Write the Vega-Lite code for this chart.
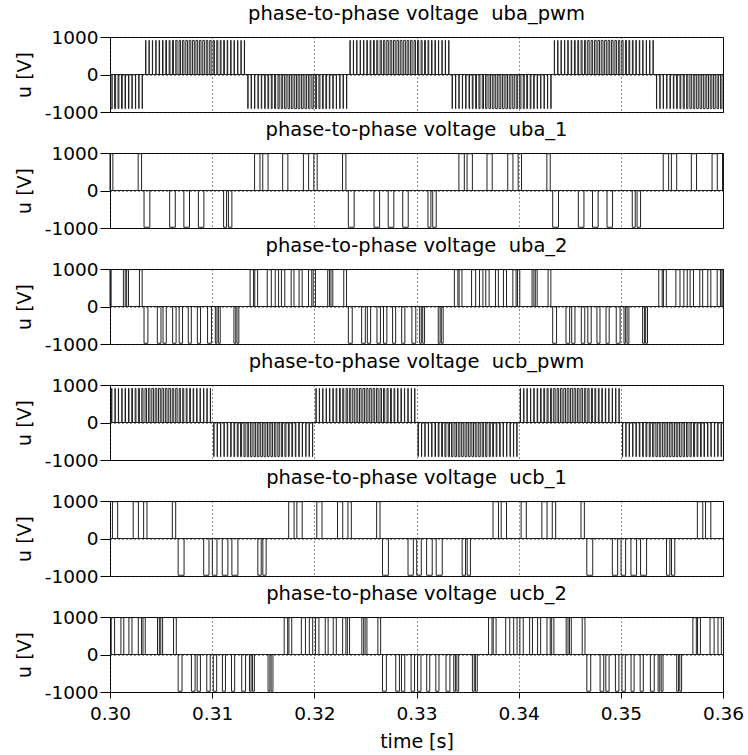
{
"$schema":"https://vega.github.io/schema/vega-lite/v6.json",
"background":"white",
"padding":{"left":14,"right":5,"top":3,"bottom":2},
"spacing":-3,
"datasets":{
"uba_pwm":[
{"a":0.30,"b":0.36,"v":0},
{"a":0.30010,"b":0.30022,"v":-910},{"a":0.30045,"b":0.30055,"v":-910},{"a":0.30079,"b":0.30087,"v":-910},{"a":0.30113,"b":0.30120,"v":-910},{"a":0.30147,"b":0.30152,"v":-910},{"a":0.30181,"b":0.30185,"v":-910},{"a":0.30215,"b":0.30217,"v":-910},{"a":0.30249,"b":0.30251,"v":-910},{"a":0.30282,"b":0.30284,"v":-910},{"a":0.30315,"b":0.30317,"v":-910},
{"a":0.30349,"b":0.30351,"v":910},{"a":0.30382,"b":0.30384,"v":910},{"a":0.30415,"b":0.30417,"v":910},{"a":0.30449,"b":0.30451,"v":910},{"a":0.30481,"b":0.30485,"v":910},{"a":0.30514,"b":0.30519,"v":910},{"a":0.30546,"b":0.30553,"v":910},{"a":0.30579,"b":0.30587,"v":910},{"a":0.30611,"b":0.30621,"v":910},{"a":0.30644,"b":0.30656,"v":910},{"a":0.30676,"b":0.30690,"v":910},{"a":0.30709,"b":0.30724,"v":910},{"a":0.30742,"b":0.30758,"v":910},{"a":0.30775,"b":0.30791,"v":910},{"a":0.30808,"b":0.30825,"v":910},{"a":0.30841,"b":0.30858,"v":910},{"a":0.30875,"b":0.30891,"v":910},{"a":0.30908,"b":0.30924,"v":910},{"a":0.30942,"b":0.30957,"v":910},{"a":0.30976,"b":0.30990,"v":910},{"a":0.31010,"b":0.31022,"v":910},{"a":0.31045,"b":0.31055,"v":910},{"a":0.31079,"b":0.31087,"v":910},{"a":0.31113,"b":0.31120,"v":910},{"a":0.31147,"b":0.31152,"v":910},{"a":0.31181,"b":0.31185,"v":910},{"a":0.31215,"b":0.31217,"v":910},{"a":0.31249,"b":0.31251,"v":910},{"a":0.31282,"b":0.31284,"v":910},{"a":0.31315,"b":0.31317,"v":910},
{"a":0.31349,"b":0.31351,"v":-910},{"a":0.31382,"b":0.31384,"v":-910},{"a":0.31415,"b":0.31417,"v":-910},{"a":0.31449,"b":0.31451,"v":-910},{"a":0.31481,"b":0.31485,"v":-910},{"a":0.31514,"b":0.31519,"v":-910},{"a":0.31546,"b":0.31553,"v":-910},{"a":0.31579,"b":0.31587,"v":-910},{"a":0.31611,"b":0.31621,"v":-910},{"a":0.31644,"b":0.31656,"v":-910},{"a":0.31676,"b":0.31690,"v":-910},{"a":0.31709,"b":0.31724,"v":-910},{"a":0.31742,"b":0.31758,"v":-910},{"a":0.31775,"b":0.31791,"v":-910},{"a":0.31808,"b":0.31825,"v":-910},{"a":0.31841,"b":0.31858,"v":-910},{"a":0.31875,"b":0.31891,"v":-910},{"a":0.31908,"b":0.31924,"v":-910},{"a":0.31942,"b":0.31957,"v":-910},{"a":0.31976,"b":0.31990,"v":-910},{"a":0.32010,"b":0.32022,"v":-910},{"a":0.32045,"b":0.32055,"v":-910},{"a":0.32079,"b":0.32087,"v":-910},{"a":0.32113,"b":0.32120,"v":-910},{"a":0.32147,"b":0.32152,"v":-910},{"a":0.32181,"b":0.32185,"v":-910},{"a":0.32215,"b":0.32217,"v":-910},{"a":0.32249,"b":0.32251,"v":-910},{"a":0.32282,"b":0.32284,"v":-910},{"a":0.32315,"b":0.32317,"v":-910},
{"a":0.32349,"b":0.32351,"v":910},{"a":0.32382,"b":0.32384,"v":910},{"a":0.32415,"b":0.32417,"v":910},{"a":0.32449,"b":0.32451,"v":910},{"a":0.32481,"b":0.32485,"v":910},{"a":0.32514,"b":0.32519,"v":910},{"a":0.32546,"b":0.32553,"v":910},{"a":0.32579,"b":0.32587,"v":910},{"a":0.32611,"b":0.32621,"v":910},{"a":0.32644,"b":0.32656,"v":910},{"a":0.32676,"b":0.32690,"v":910},{"a":0.32709,"b":0.32724,"v":910},{"a":0.32742,"b":0.32758,"v":910},{"a":0.32775,"b":0.32791,"v":910},{"a":0.32808,"b":0.32825,"v":910},{"a":0.32841,"b":0.32858,"v":910},{"a":0.32875,"b":0.32891,"v":910},{"a":0.32908,"b":0.32924,"v":910},{"a":0.32942,"b":0.32957,"v":910},{"a":0.32976,"b":0.32990,"v":910},{"a":0.33010,"b":0.33022,"v":910},{"a":0.33045,"b":0.33055,"v":910},{"a":0.33079,"b":0.33087,"v":910},{"a":0.33113,"b":0.33120,"v":910},{"a":0.33147,"b":0.33152,"v":910},{"a":0.33181,"b":0.33185,"v":910},{"a":0.33215,"b":0.33217,"v":910},{"a":0.33249,"b":0.33251,"v":910},{"a":0.33282,"b":0.33284,"v":910},{"a":0.33315,"b":0.33317,"v":910},
{"a":0.33349,"b":0.33351,"v":-910},{"a":0.33382,"b":0.33384,"v":-910},{"a":0.33415,"b":0.33417,"v":-910},{"a":0.33449,"b":0.33451,"v":-910},{"a":0.33481,"b":0.33485,"v":-910},{"a":0.33514,"b":0.33519,"v":-910},{"a":0.33546,"b":0.33553,"v":-910},{"a":0.33579,"b":0.33587,"v":-910},{"a":0.33611,"b":0.33621,"v":-910},{"a":0.33644,"b":0.33656,"v":-910},{"a":0.33676,"b":0.33690,"v":-910},{"a":0.33709,"b":0.33724,"v":-910},{"a":0.33742,"b":0.33758,"v":-910},{"a":0.33775,"b":0.33791,"v":-910},{"a":0.33808,"b":0.33825,"v":-910},{"a":0.33841,"b":0.33858,"v":-910},{"a":0.33875,"b":0.33891,"v":-910},{"a":0.33908,"b":0.33924,"v":-910},{"a":0.33942,"b":0.33957,"v":-910},{"a":0.33976,"b":0.33990,"v":-910},{"a":0.34010,"b":0.34022,"v":-910},{"a":0.34045,"b":0.34055,"v":-910},{"a":0.34079,"b":0.34087,"v":-910},{"a":0.34113,"b":0.34120,"v":-910},{"a":0.34147,"b":0.34152,"v":-910},{"a":0.34181,"b":0.34185,"v":-910},{"a":0.34215,"b":0.34217,"v":-910},{"a":0.34249,"b":0.34251,"v":-910},{"a":0.34282,"b":0.34284,"v":-910},{"a":0.34315,"b":0.34317,"v":-910},
{"a":0.34349,"b":0.34351,"v":910},{"a":0.34382,"b":0.34384,"v":910},{"a":0.34415,"b":0.34417,"v":910},{"a":0.34449,"b":0.34451,"v":910},{"a":0.34481,"b":0.34485,"v":910},{"a":0.34514,"b":0.34519,"v":910},{"a":0.34546,"b":0.34553,"v":910},{"a":0.34579,"b":0.34587,"v":910},{"a":0.34611,"b":0.34621,"v":910},{"a":0.34644,"b":0.34656,"v":910},{"a":0.34676,"b":0.34690,"v":910},{"a":0.34709,"b":0.34724,"v":910},{"a":0.34742,"b":0.34758,"v":910},{"a":0.34775,"b":0.34791,"v":910},{"a":0.34808,"b":0.34825,"v":910},{"a":0.34841,"b":0.34858,"v":910},{"a":0.34875,"b":0.34891,"v":910},{"a":0.34908,"b":0.34924,"v":910},{"a":0.34942,"b":0.34957,"v":910},{"a":0.34976,"b":0.34990,"v":910},{"a":0.35010,"b":0.35022,"v":910},{"a":0.35045,"b":0.35055,"v":910},{"a":0.35079,"b":0.35087,"v":910},{"a":0.35113,"b":0.35120,"v":910},{"a":0.35147,"b":0.35152,"v":910},{"a":0.35181,"b":0.35185,"v":910},{"a":0.35215,"b":0.35217,"v":910},{"a":0.35249,"b":0.35251,"v":910},{"a":0.35282,"b":0.35284,"v":910},{"a":0.35315,"b":0.35317,"v":910},
{"a":0.35349,"b":0.35351,"v":-910},{"a":0.35382,"b":0.35384,"v":-910},{"a":0.35415,"b":0.35417,"v":-910},{"a":0.35449,"b":0.35451,"v":-910},{"a":0.35481,"b":0.35485,"v":-910},{"a":0.35514,"b":0.35519,"v":-910},{"a":0.35546,"b":0.35553,"v":-910},{"a":0.35579,"b":0.35587,"v":-910},{"a":0.35611,"b":0.35621,"v":-910},{"a":0.35644,"b":0.35656,"v":-910},{"a":0.35676,"b":0.35690,"v":-910},{"a":0.35709,"b":0.35724,"v":-910},{"a":0.35742,"b":0.35758,"v":-910},{"a":0.35775,"b":0.35791,"v":-910},{"a":0.35808,"b":0.35825,"v":-910},{"a":0.35841,"b":0.35858,"v":-910},{"a":0.35875,"b":0.35891,"v":-910},{"a":0.35908,"b":0.35924,"v":-910},{"a":0.35942,"b":0.35957,"v":-910},{"a":0.35976,"b":0.35990,"v":-910}
],
"uba_1":[
{"a":0.30,"b":0.36,"v":0},
{"a":0.30000,"b":0.30028,"v":980},{"a":0.30276,"b":0.30309,"v":980},
{"a":0.30333,"b":0.30390,"v":-980},{"a":0.30584,"b":0.30639,"v":-980},{"a":0.30723,"b":0.30778,"v":-980},{"a":0.30865,"b":0.30919,"v":-980},{"a":0.31112,"b":0.31141,"v":-980},{"a":0.31159,"b":0.31193,"v":-980},
{"a":0.31415,"b":0.31468,"v":980},{"a":0.31495,"b":0.31547,"v":980},{"a":0.31690,"b":0.31741,"v":980},{"a":0.31893,"b":0.31944,"v":980},{"a":0.31995,"b":0.32028,"v":980},{"a":0.32276,"b":0.32309,"v":980},
{"a":0.32333,"b":0.32390,"v":-980},{"a":0.32584,"b":0.32639,"v":-980},{"a":0.32723,"b":0.32778,"v":-980},{"a":0.32865,"b":0.32919,"v":-980},{"a":0.33112,"b":0.33141,"v":-980},{"a":0.33159,"b":0.33193,"v":-980},
{"a":0.33415,"b":0.33468,"v":980},{"a":0.33495,"b":0.33547,"v":980},{"a":0.33690,"b":0.33741,"v":980},{"a":0.33893,"b":0.33944,"v":980},{"a":0.33995,"b":0.34028,"v":980},{"a":0.34276,"b":0.34309,"v":980},
{"a":0.34333,"b":0.34390,"v":-980},{"a":0.34584,"b":0.34639,"v":-980},{"a":0.34723,"b":0.34778,"v":-980},{"a":0.34865,"b":0.34919,"v":-980},{"a":0.35112,"b":0.35141,"v":-980},{"a":0.35159,"b":0.35193,"v":-980},
{"a":0.35415,"b":0.35468,"v":980},{"a":0.35495,"b":0.35547,"v":980},{"a":0.35690,"b":0.35741,"v":980},{"a":0.35893,"b":0.35944,"v":980},{"a":0.35995,"b":0.36000,"v":980}
],
"uba_2":[
{"a":0.30,"b":0.36,"v":0},
{"a":0.30000,"b":0.30011,"v":980},{"a":0.30131,"b":0.30149,"v":980},{"a":0.30163,"b":0.30181,"v":980},{"a":0.30288,"b":0.30315,"v":980},
{"a":0.30333,"b":0.30371,"v":-980},{"a":0.30463,"b":0.30499,"v":-980},{"a":0.30519,"b":0.30551,"v":-980},{"a":0.30613,"b":0.30647,"v":-980},{"a":0.30677,"b":0.30710,"v":-980},{"a":0.30766,"b":0.30796,"v":-980},{"a":0.30855,"b":0.30886,"v":-980},{"a":0.30955,"b":0.30993,"v":-980},{"a":0.31031,"b":0.31047,"v":-980},{"a":0.31061,"b":0.31079,"v":-980},{"a":0.31213,"b":0.31231,"v":-980},{"a":0.31243,"b":0.31261,"v":-980},
{"a":0.31371,"b":0.31405,"v":980},{"a":0.31417,"b":0.31445,"v":980},{"a":0.31539,"b":0.31579,"v":980},{"a":0.31617,"b":0.31650,"v":980},{"a":0.31678,"b":0.31711,"v":980},{"a":0.31773,"b":0.31801,"v":980},{"a":0.31851,"b":0.31881,"v":980},{"a":0.31943,"b":0.31975,"v":980},{"a":0.31989,"b":0.32011,"v":980},{"a":0.32131,"b":0.32149,"v":980},{"a":0.32163,"b":0.32181,"v":980},{"a":0.32288,"b":0.32315,"v":980},
{"a":0.32333,"b":0.32371,"v":-980},{"a":0.32463,"b":0.32499,"v":-980},{"a":0.32519,"b":0.32551,"v":-980},{"a":0.32613,"b":0.32647,"v":-980},{"a":0.32677,"b":0.32710,"v":-980},{"a":0.32766,"b":0.32796,"v":-980},{"a":0.32855,"b":0.32886,"v":-980},{"a":0.32955,"b":0.32993,"v":-980},{"a":0.33031,"b":0.33047,"v":-980},{"a":0.33061,"b":0.33079,"v":-980},{"a":0.33213,"b":0.33231,"v":-980},{"a":0.33243,"b":0.33261,"v":-980},
{"a":0.33371,"b":0.33405,"v":980},{"a":0.33417,"b":0.33445,"v":980},{"a":0.33539,"b":0.33579,"v":980},{"a":0.33617,"b":0.33650,"v":980},{"a":0.33678,"b":0.33711,"v":980},{"a":0.33773,"b":0.33801,"v":980},{"a":0.33851,"b":0.33881,"v":980},{"a":0.33943,"b":0.33975,"v":980},{"a":0.33989,"b":0.34011,"v":980},{"a":0.34131,"b":0.34149,"v":980},{"a":0.34163,"b":0.34181,"v":980},{"a":0.34288,"b":0.34315,"v":980},
{"a":0.34333,"b":0.34371,"v":-980},{"a":0.34463,"b":0.34499,"v":-980},{"a":0.34519,"b":0.34551,"v":-980},{"a":0.34613,"b":0.34647,"v":-980},{"a":0.34677,"b":0.34710,"v":-980},{"a":0.34766,"b":0.34796,"v":-980},{"a":0.34855,"b":0.34886,"v":-980},{"a":0.34955,"b":0.34993,"v":-980},{"a":0.35031,"b":0.35047,"v":-980},{"a":0.35061,"b":0.35079,"v":-980},{"a":0.35213,"b":0.35231,"v":-980},{"a":0.35243,"b":0.35261,"v":-980},
{"a":0.35371,"b":0.35405,"v":980},{"a":0.35417,"b":0.35445,"v":980},{"a":0.35539,"b":0.35579,"v":980},{"a":0.35617,"b":0.35650,"v":980},{"a":0.35678,"b":0.35711,"v":980},{"a":0.35773,"b":0.35801,"v":980},{"a":0.35851,"b":0.35881,"v":980},{"a":0.35943,"b":0.35975,"v":980},{"a":0.35989,"b":0.36000,"v":980}
],
"ucb_pwm":[
{"a":0.30,"b":0.36,"v":0},
{"a":0.30016,"b":0.30018,"v":910},{"a":0.30049,"b":0.30051,"v":910},{"a":0.30082,"b":0.30084,"v":910},{"a":0.30116,"b":0.30118,"v":910},{"a":0.30148,"b":0.30152,"v":910},{"a":0.30181,"b":0.30186,"v":910},{"a":0.30213,"b":0.30220,"v":910},{"a":0.30246,"b":0.30254,"v":910},{"a":0.30278,"b":0.30288,"v":910},{"a":0.30311,"b":0.30323,"v":910},{"a":0.30343,"b":0.30357,"v":910},{"a":0.30376,"b":0.30391,"v":910},{"a":0.30409,"b":0.30425,"v":910},{"a":0.30442,"b":0.30458,"v":910},{"a":0.30475,"b":0.30492,"v":910},{"a":0.30508,"b":0.30525,"v":910},{"a":0.30542,"b":0.30558,"v":910},{"a":0.30575,"b":0.30591,"v":910},{"a":0.30609,"b":0.30624,"v":910},{"a":0.30643,"b":0.30657,"v":910},{"a":0.30677,"b":0.30689,"v":910},{"a":0.30712,"b":0.30722,"v":910},{"a":0.30746,"b":0.30754,"v":910},{"a":0.30780,"b":0.30787,"v":910},{"a":0.30814,"b":0.30819,"v":910},{"a":0.30848,"b":0.30852,"v":910},{"a":0.30882,"b":0.30884,"v":910},{"a":0.30916,"b":0.30918,"v":910},{"a":0.30949,"b":0.30951,"v":910},{"a":0.30982,"b":0.30984,"v":910},
{"a":0.31016,"b":0.31018,"v":-910},{"a":0.31049,"b":0.31051,"v":-910},{"a":0.31082,"b":0.31084,"v":-910},{"a":0.31116,"b":0.31118,"v":-910},{"a":0.31148,"b":0.31152,"v":-910},{"a":0.31181,"b":0.31186,"v":-910},{"a":0.31213,"b":0.31220,"v":-910},{"a":0.31246,"b":0.31254,"v":-910},{"a":0.31278,"b":0.31288,"v":-910},{"a":0.31311,"b":0.31323,"v":-910},{"a":0.31343,"b":0.31357,"v":-910},{"a":0.31376,"b":0.31391,"v":-910},{"a":0.31409,"b":0.31425,"v":-910},{"a":0.31442,"b":0.31458,"v":-910},{"a":0.31475,"b":0.31492,"v":-910},{"a":0.31508,"b":0.31525,"v":-910},{"a":0.31542,"b":0.31558,"v":-910},{"a":0.31575,"b":0.31591,"v":-910},{"a":0.31609,"b":0.31624,"v":-910},{"a":0.31643,"b":0.31657,"v":-910},{"a":0.31677,"b":0.31689,"v":-910},{"a":0.31712,"b":0.31722,"v":-910},{"a":0.31746,"b":0.31754,"v":-910},{"a":0.31780,"b":0.31787,"v":-910},{"a":0.31814,"b":0.31819,"v":-910},{"a":0.31848,"b":0.31852,"v":-910},{"a":0.31882,"b":0.31884,"v":-910},{"a":0.31916,"b":0.31918,"v":-910},{"a":0.31949,"b":0.31951,"v":-910},{"a":0.31982,"b":0.31984,"v":-910},
{"a":0.32016,"b":0.32018,"v":910},{"a":0.32049,"b":0.32051,"v":910},{"a":0.32082,"b":0.32084,"v":910},{"a":0.32116,"b":0.32118,"v":910},{"a":0.32148,"b":0.32152,"v":910},{"a":0.32181,"b":0.32186,"v":910},{"a":0.32213,"b":0.32220,"v":910},{"a":0.32246,"b":0.32254,"v":910},{"a":0.32278,"b":0.32288,"v":910},{"a":0.32311,"b":0.32323,"v":910},{"a":0.32343,"b":0.32357,"v":910},{"a":0.32376,"b":0.32391,"v":910},{"a":0.32409,"b":0.32425,"v":910},{"a":0.32442,"b":0.32458,"v":910},{"a":0.32475,"b":0.32492,"v":910},{"a":0.32508,"b":0.32525,"v":910},{"a":0.32542,"b":0.32558,"v":910},{"a":0.32575,"b":0.32591,"v":910},{"a":0.32609,"b":0.32624,"v":910},{"a":0.32643,"b":0.32657,"v":910},{"a":0.32677,"b":0.32689,"v":910},{"a":0.32712,"b":0.32722,"v":910},{"a":0.32746,"b":0.32754,"v":910},{"a":0.32780,"b":0.32787,"v":910},{"a":0.32814,"b":0.32819,"v":910},{"a":0.32848,"b":0.32852,"v":910},{"a":0.32882,"b":0.32884,"v":910},{"a":0.32916,"b":0.32918,"v":910},{"a":0.32949,"b":0.32951,"v":910},{"a":0.32982,"b":0.32984,"v":910},
{"a":0.33016,"b":0.33018,"v":-910},{"a":0.33049,"b":0.33051,"v":-910},{"a":0.33082,"b":0.33084,"v":-910},{"a":0.33116,"b":0.33118,"v":-910},{"a":0.33148,"b":0.33152,"v":-910},{"a":0.33181,"b":0.33186,"v":-910},{"a":0.33213,"b":0.33220,"v":-910},{"a":0.33246,"b":0.33254,"v":-910},{"a":0.33278,"b":0.33288,"v":-910},{"a":0.33311,"b":0.33323,"v":-910},{"a":0.33343,"b":0.33357,"v":-910},{"a":0.33376,"b":0.33391,"v":-910},{"a":0.33409,"b":0.33425,"v":-910},{"a":0.33442,"b":0.33458,"v":-910},{"a":0.33475,"b":0.33492,"v":-910},{"a":0.33508,"b":0.33525,"v":-910},{"a":0.33542,"b":0.33558,"v":-910},{"a":0.33575,"b":0.33591,"v":-910},{"a":0.33609,"b":0.33624,"v":-910},{"a":0.33643,"b":0.33657,"v":-910},{"a":0.33677,"b":0.33689,"v":-910},{"a":0.33712,"b":0.33722,"v":-910},{"a":0.33746,"b":0.33754,"v":-910},{"a":0.33780,"b":0.33787,"v":-910},{"a":0.33814,"b":0.33819,"v":-910},{"a":0.33848,"b":0.33852,"v":-910},{"a":0.33882,"b":0.33884,"v":-910},{"a":0.33916,"b":0.33918,"v":-910},{"a":0.33949,"b":0.33951,"v":-910},{"a":0.33982,"b":0.33984,"v":-910},
{"a":0.34016,"b":0.34018,"v":910},{"a":0.34049,"b":0.34051,"v":910},{"a":0.34082,"b":0.34084,"v":910},{"a":0.34116,"b":0.34118,"v":910},{"a":0.34148,"b":0.34152,"v":910},{"a":0.34181,"b":0.34186,"v":910},{"a":0.34213,"b":0.34220,"v":910},{"a":0.34246,"b":0.34254,"v":910},{"a":0.34278,"b":0.34288,"v":910},{"a":0.34311,"b":0.34323,"v":910},{"a":0.34343,"b":0.34357,"v":910},{"a":0.34376,"b":0.34391,"v":910},{"a":0.34409,"b":0.34425,"v":910},{"a":0.34442,"b":0.34458,"v":910},{"a":0.34475,"b":0.34492,"v":910},{"a":0.34508,"b":0.34525,"v":910},{"a":0.34542,"b":0.34558,"v":910},{"a":0.34575,"b":0.34591,"v":910},{"a":0.34609,"b":0.34624,"v":910},{"a":0.34643,"b":0.34657,"v":910},{"a":0.34677,"b":0.34689,"v":910},{"a":0.34712,"b":0.34722,"v":910},{"a":0.34746,"b":0.34754,"v":910},{"a":0.34780,"b":0.34787,"v":910},{"a":0.34814,"b":0.34819,"v":910},{"a":0.34848,"b":0.34852,"v":910},{"a":0.34882,"b":0.34884,"v":910},{"a":0.34916,"b":0.34918,"v":910},{"a":0.34949,"b":0.34951,"v":910},{"a":0.34982,"b":0.34984,"v":910},
{"a":0.35016,"b":0.35018,"v":-910},{"a":0.35049,"b":0.35051,"v":-910},{"a":0.35082,"b":0.35084,"v":-910},{"a":0.35116,"b":0.35118,"v":-910},{"a":0.35148,"b":0.35152,"v":-910},{"a":0.35181,"b":0.35186,"v":-910},{"a":0.35213,"b":0.35220,"v":-910},{"a":0.35246,"b":0.35254,"v":-910},{"a":0.35278,"b":0.35288,"v":-910},{"a":0.35311,"b":0.35323,"v":-910},{"a":0.35343,"b":0.35357,"v":-910},{"a":0.35376,"b":0.35391,"v":-910},{"a":0.35409,"b":0.35425,"v":-910},{"a":0.35442,"b":0.35458,"v":-910},{"a":0.35475,"b":0.35492,"v":-910},{"a":0.35508,"b":0.35525,"v":-910},{"a":0.35542,"b":0.35558,"v":-910},{"a":0.35575,"b":0.35591,"v":-910},{"a":0.35609,"b":0.35624,"v":-910},{"a":0.35643,"b":0.35657,"v":-910},{"a":0.35677,"b":0.35689,"v":-910},{"a":0.35712,"b":0.35722,"v":-910},{"a":0.35746,"b":0.35754,"v":-910},{"a":0.35780,"b":0.35787,"v":-910},{"a":0.35814,"b":0.35819,"v":-910},{"a":0.35848,"b":0.35852,"v":-910},{"a":0.35882,"b":0.35884,"v":-910},{"a":0.35916,"b":0.35918,"v":-910},{"a":0.35949,"b":0.35951,"v":-910},{"a":0.35982,"b":0.35984,"v":-910}
],
"ucb_1":[
{"a":0.30,"b":0.36,"v":0},
{"a":0.30024,"b":0.30075,"v":980},{"a":0.30227,"b":0.30278,"v":980},{"a":0.30329,"b":0.30362,"v":980},{"a":0.30610,"b":0.30643,"v":980},
{"a":0.30667,"b":0.30725,"v":-980},{"a":0.30917,"b":0.30969,"v":-980},{"a":0.31002,"b":0.31047,"v":-980},{"a":0.31099,"b":0.31154,"v":-980},{"a":0.31193,"b":0.31252,"v":-980},{"a":0.31447,"b":0.31480,"v":-980},{"a":0.31496,"b":0.31528,"v":-980},
{"a":0.31749,"b":0.31802,"v":980},{"a":0.31829,"b":0.31881,"v":980},{"a":0.32024,"b":0.32075,"v":980},{"a":0.32227,"b":0.32278,"v":980},{"a":0.32329,"b":0.32362,"v":980},{"a":0.32610,"b":0.32643,"v":980},
{"a":0.32667,"b":0.32725,"v":-980},{"a":0.32917,"b":0.32969,"v":-980},{"a":0.33002,"b":0.33047,"v":-980},{"a":0.33099,"b":0.33154,"v":-980},{"a":0.33193,"b":0.33252,"v":-980},{"a":0.33447,"b":0.33480,"v":-980},{"a":0.33496,"b":0.33528,"v":-980},
{"a":0.33749,"b":0.33802,"v":980},{"a":0.33829,"b":0.33881,"v":980},{"a":0.34024,"b":0.34075,"v":980},{"a":0.34227,"b":0.34278,"v":980},{"a":0.34329,"b":0.34362,"v":980},{"a":0.34610,"b":0.34643,"v":980},
{"a":0.34667,"b":0.34725,"v":-980},{"a":0.34917,"b":0.34969,"v":-980},{"a":0.35002,"b":0.35047,"v":-980},{"a":0.35099,"b":0.35154,"v":-980},{"a":0.35193,"b":0.35252,"v":-980},{"a":0.35447,"b":0.35480,"v":-980},{"a":0.35496,"b":0.35528,"v":-980},
{"a":0.35749,"b":0.35802,"v":980},{"a":0.35829,"b":0.35881,"v":980}
],
"ucb_2":[
{"a":0.30,"b":0.36,"v":0},
{"a":0.30012,"b":0.30045,"v":980},{"a":0.30107,"b":0.30135,"v":980},{"a":0.30185,"b":0.30215,"v":980},{"a":0.30277,"b":0.30309,"v":980},{"a":0.30323,"b":0.30345,"v":980},{"a":0.30465,"b":0.30483,"v":980},{"a":0.30497,"b":0.30515,"v":980},{"a":0.30622,"b":0.30649,"v":980},
{"a":0.30667,"b":0.30705,"v":-980},{"a":0.30797,"b":0.30833,"v":-980},{"a":0.30853,"b":0.30885,"v":-980},{"a":0.30947,"b":0.30981,"v":-980},{"a":0.31011,"b":0.31044,"v":-980},{"a":0.31100,"b":0.31130,"v":-980},{"a":0.31189,"b":0.31220,"v":-980},{"a":0.31289,"b":0.31327,"v":-980},{"a":0.31365,"b":0.31381,"v":-980},{"a":0.31395,"b":0.31413,"v":-980},{"a":0.31547,"b":0.31565,"v":-980},{"a":0.31577,"b":0.31595,"v":-980},
{"a":0.31705,"b":0.31739,"v":980},{"a":0.31751,"b":0.31779,"v":980},{"a":0.31873,"b":0.31913,"v":980},{"a":0.31951,"b":0.31984,"v":980},{"a":0.32012,"b":0.32045,"v":980},{"a":0.32107,"b":0.32135,"v":980},{"a":0.32185,"b":0.32215,"v":980},{"a":0.32277,"b":0.32309,"v":980},{"a":0.32323,"b":0.32345,"v":980},{"a":0.32465,"b":0.32483,"v":980},{"a":0.32497,"b":0.32515,"v":980},{"a":0.32622,"b":0.32649,"v":980},
{"a":0.32667,"b":0.32705,"v":-980},{"a":0.32797,"b":0.32833,"v":-980},{"a":0.32853,"b":0.32885,"v":-980},{"a":0.32947,"b":0.32981,"v":-980},{"a":0.33011,"b":0.33044,"v":-980},{"a":0.33100,"b":0.33130,"v":-980},{"a":0.33189,"b":0.33220,"v":-980},{"a":0.33289,"b":0.33327,"v":-980},{"a":0.33365,"b":0.33381,"v":-980},{"a":0.33395,"b":0.33413,"v":-980},{"a":0.33547,"b":0.33565,"v":-980},{"a":0.33577,"b":0.33595,"v":-980},
{"a":0.33705,"b":0.33739,"v":980},{"a":0.33751,"b":0.33779,"v":980},{"a":0.33873,"b":0.33913,"v":980},{"a":0.33951,"b":0.33984,"v":980},{"a":0.34012,"b":0.34045,"v":980},{"a":0.34107,"b":0.34135,"v":980},{"a":0.34185,"b":0.34215,"v":980},{"a":0.34277,"b":0.34309,"v":980},{"a":0.34323,"b":0.34345,"v":980},{"a":0.34465,"b":0.34483,"v":980},{"a":0.34497,"b":0.34515,"v":980},{"a":0.34622,"b":0.34649,"v":980},
{"a":0.34667,"b":0.34705,"v":-980},{"a":0.34797,"b":0.34833,"v":-980},{"a":0.34853,"b":0.34885,"v":-980},{"a":0.34947,"b":0.34981,"v":-980},{"a":0.35011,"b":0.35044,"v":-980},{"a":0.35100,"b":0.35130,"v":-980},{"a":0.35189,"b":0.35220,"v":-980},{"a":0.35289,"b":0.35327,"v":-980},{"a":0.35365,"b":0.35381,"v":-980},{"a":0.35395,"b":0.35413,"v":-980},{"a":0.35547,"b":0.35565,"v":-980},{"a":0.35577,"b":0.35595,"v":-980},
{"a":0.35705,"b":0.35739,"v":980},{"a":0.35751,"b":0.35779,"v":980},{"a":0.35873,"b":0.35913,"v":980},{"a":0.35951,"b":0.35984,"v":980}
]
},
"vconcat":[
{"title":"phase-to-phase voltage\u00a0 uba_pwm","width":613,"height":75,"data":{"name":"uba_pwm"},"mark":{"type":"rect","filled":false,"color":"#222","strokeWidth":1},
 "encoding":{"x":{"field":"a","type":"quantitative","scale":{"domain":[0.3,0.36],"nice":false,"zero":false},"axis":{"labels":false,"ticks":false,"tickSize":0,"labelPadding":0,"minExtent":0,"maxExtent":0,"title":null,"values":[0.3,0.31,0.32,0.33,0.34,0.35,0.36]}},
  "x2":{"field":"b"},
  "y":{"field":"v","type":"quantitative","scale":{"domain":[-1000,1000],"nice":false},"axis":{"title":"u [V]","titleFontSize":19,"values":[-1000,0,1000],"labelExpr":"'' + datum.value"}},
  "y2":{"datum":0}}},
{"title":"phase-to-phase voltage\u00a0 uba_1","width":613,"height":75,"data":{"name":"uba_1"},"mark":{"type":"rect","filled":false,"color":"#222","strokeWidth":1},
 "encoding":{"x":{"field":"a","type":"quantitative","scale":{"domain":[0.3,0.36],"nice":false,"zero":false},"axis":{"labels":false,"ticks":false,"tickSize":0,"labelPadding":0,"minExtent":0,"maxExtent":0,"title":null,"values":[0.3,0.31,0.32,0.33,0.34,0.35,0.36]}},
  "x2":{"field":"b"},
  "y":{"field":"v","type":"quantitative","scale":{"domain":[-1000,1000],"nice":false},"axis":{"title":"u [V]","titleFontSize":19,"values":[-1000,0,1000],"labelExpr":"'' + datum.value"}},
  "y2":{"datum":0}}},
{"title":"phase-to-phase voltage\u00a0 uba_2","width":613,"height":75,"data":{"name":"uba_2"},"mark":{"type":"rect","filled":false,"color":"#222","strokeWidth":1},
 "encoding":{"x":{"field":"a","type":"quantitative","scale":{"domain":[0.3,0.36],"nice":false,"zero":false},"axis":{"labels":false,"ticks":false,"tickSize":0,"labelPadding":0,"minExtent":0,"maxExtent":0,"title":null,"values":[0.3,0.31,0.32,0.33,0.34,0.35,0.36]}},
  "x2":{"field":"b"},
  "y":{"field":"v","type":"quantitative","scale":{"domain":[-1000,1000],"nice":false},"axis":{"title":"u [V]","titleFontSize":19,"values":[-1000,0,1000],"labelExpr":"'' + datum.value"}},
  "y2":{"datum":0}}},
{"title":"phase-to-phase voltage\u00a0 ucb_pwm","width":613,"height":75,"data":{"name":"ucb_pwm"},"mark":{"type":"rect","filled":false,"color":"#222","strokeWidth":1},
 "encoding":{"x":{"field":"a","type":"quantitative","scale":{"domain":[0.3,0.36],"nice":false,"zero":false},"axis":{"labels":false,"ticks":false,"tickSize":0,"labelPadding":0,"minExtent":0,"maxExtent":0,"title":null,"values":[0.3,0.31,0.32,0.33,0.34,0.35,0.36]}},
  "x2":{"field":"b"},
  "y":{"field":"v","type":"quantitative","scale":{"domain":[-1000,1000],"nice":false},"axis":{"title":"u [V]","titleFontSize":19,"values":[-1000,0,1000],"labelExpr":"'' + datum.value"}},
  "y2":{"datum":0}}},
{"title":"phase-to-phase voltage\u00a0 ucb_1","width":613,"height":75,"data":{"name":"ucb_1"},"mark":{"type":"rect","filled":false,"color":"#222","strokeWidth":1},
 "encoding":{"x":{"field":"a","type":"quantitative","scale":{"domain":[0.3,0.36],"nice":false,"zero":false},"axis":{"labels":false,"ticks":false,"tickSize":0,"labelPadding":0,"minExtent":0,"maxExtent":0,"title":null,"values":[0.3,0.31,0.32,0.33,0.34,0.35,0.36]}},
  "x2":{"field":"b"},
  "y":{"field":"v","type":"quantitative","scale":{"domain":[-1000,1000],"nice":false},"axis":{"title":"u [V]","titleFontSize":19,"values":[-1000,0,1000],"labelExpr":"'' + datum.value"}},
  "y2":{"datum":0}}},
{"title":"phase-to-phase voltage\u00a0 ucb_2","width":613,"height":75,"data":{"name":"ucb_2"},"mark":{"type":"rect","filled":false,"color":"#222","strokeWidth":1},
 "encoding":{"x":{"field":"a","type":"quantitative","scale":{"domain":[0.3,0.36],"nice":false,"zero":false},"axis":{"title":"time [s]","titleFontSize":19,"format":".2f","labelFlush":false,"labelPadding":6,"titlePadding":10,"values":[0.3,0.31,0.32,0.33,0.34,0.35,0.36]}},
  "x2":{"field":"b"},
  "y":{"field":"v","type":"quantitative","scale":{"domain":[-1000,1000],"nice":false},"axis":{"title":"u [V]","titleFontSize":19,"values":[-1000,0,1000],"labelExpr":"'' + datum.value"}},
  "y2":{"datum":0}}}
],
"config":{
 "font":"DejaVu Sans",
 "view":{"stroke":"#000","strokeWidth":1},
 "axis":{"labelFontSize":18.5,"titleFontSize":19,"titleFontWeight":"normal","labelColor":"#000","titleColor":"#000","tickColor":"#000","domain":false,"grid":true,"gridColor":"#222","gridDash":[1,3],"gridOpacity":1,"gridWidth":1},
 "axisY":{"tickSize":10,"labelPadding":2,"titlePadding":10},
 "axisX":{"tickSize":6,"labelPadding":3,"titlePadding":4},
 "title":{"fontSize":19.5,"fontWeight":"normal","color":"#000","offset":4}
}
}
